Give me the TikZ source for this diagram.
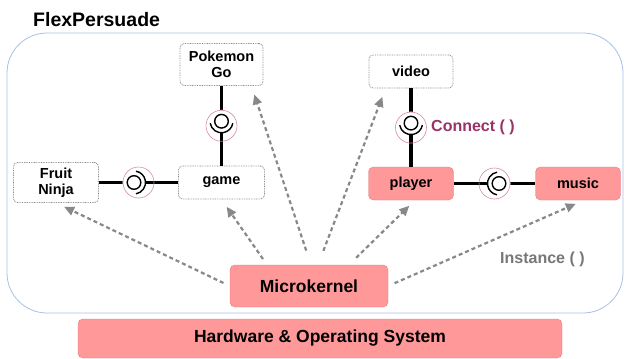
\documentclass[tikz,border=0pt]{standalone}
\usepackage{fontspec}
\setmainfont{Liberation Sans}
\usetikzlibrary{arrows.meta,positioning}

\definecolor{kernelpink}{HTML}{FF9999}
\definecolor{kernelline}{HTML}{E07A7A}
\definecolor{frameblue}{HTML}{A7C0E4}
\definecolor{ringpink}{HTML}{D88AA6}
\definecolor{connectcol}{HTML}{993366}
\definecolor{instancecol}{HTML}{777777}
\definecolor{arrowgray}{HTML}{888888}
\definecolor{dotgray}{HTML}{8A8A8A}

\tikzset{
	appbox/.style={draw=dotgray,line width=.8pt,dash pattern=on .8pt off .9pt,rounded corners=4pt,fill=white,align=center,inner sep=0pt,font=\fontsize{14.5}{16}\selectfont\bfseries},
	corebox/.style={draw=kernelline,fill=kernelpink,rounded corners=5pt,align=center,inner sep=0pt,font=\fontsize{14.5}{16}\selectfont\bfseries},
	link/.style={line width=3.5pt},
	spawn/.style={arrowgray,line width=2.2pt,dash pattern=on 4pt off 3pt,-{Triangle[length=10pt,width=9pt]}},
}

% ball and socket, socket side towards the angle #2
\newcommand{\balljoint}[2]{%
	\begin{scope}[shift={(#1)},rotate=#2]
		\fill[white] (-4.5pt,0pt) circle (11.5pt);
		\draw[ringpink,line width=.6pt] (0pt,0pt) circle (15.5pt);
		\draw[line width=1.4pt,fill=white] (-4.5pt,0pt) circle (6.8pt);
		\draw[line width=1.4pt] ([shift={(-80:11.5pt)}]-4.5pt,0pt) arc (-80:80:11.5pt);
	\end{scope}}

\begin{document}
\begin{tikzpicture}[x=1pt,y=-1pt]
	\useasboundingbox (0,0) rectangle (625,359);
	\node[anchor=base west,inner sep=0pt,font=\fontsize{19.5}{22}\selectfont\bfseries] (title) at (33,26.5) {FlexPersuade};
	\draw[frameblue,line width=.8pt,rounded corners=40pt] (7,33) rectangle (623,313);

	% apps
	\node[appbox,minimum width=83pt,minimum height=42pt] (pokemon) at (221.5,64.5) {Pokemon\\Go};
	\node[appbox,minimum width=85pt,minimum height=40pt] (fruit) at (56,182.5) {Fruit\\Ninja};
	\node[appbox,minimum width=86pt,minimum height=33pt] (game) at (221.5,182.5) {game};
	\node[appbox,minimum width=84pt,minimum height=33pt] (video) at (411,71.5) {video};
	\node[corebox,minimum width=85pt,minimum height=33pt] (player) at (411,183.5) {player};
	\node[corebox,minimum width=85pt,minimum height=33pt] (music) at (578,183.5) {music};

	% kernel and system
	\node[corebox,minimum width=158pt,minimum height=42pt,font=\fontsize{17.5}{20}\selectfont\bfseries] (kernel) at (309,286) {Microkernel};
	\node[corebox,minimum width=484pt,minimum height=39pt,font=\fontsize{17.5}{20}\selectfont\bfseries] (hw) at (320,338.5) {Hardware \& Operating System};

	% connections
	\draw[link] (pokemon) -- coordinate[midway] (jpg) (game);
	\draw[link] (fruit) -- coordinate[midway] (jfg) (game);
	\draw[link] (video) -- coordinate[midway] (jvp) (player);
	\draw[link] (player) -- coordinate[midway] (jpm) (music);
	\balljoint{jpg}{-90}
	\balljoint{jfg}{0}
	\balljoint{jvp}{-90}
	\balljoint{jpm}{180}

	\node[right=20pt of jvp,inner sep=0pt,text=connectcol,font=\fontsize{16}{18}\selectfont\bfseries] (connect) {Connect ( )};
	\node[anchor=west,inner sep=0pt,text=instancecol,font=\fontsize{16}{18}\selectfont\bfseries] (instance) at (500,259) {Instance ( )};

	% instances
	\draw[spawn,shorten <=7pt,shorten >=9pt] (kernel.west) -- (fruit.south);
	\draw[spawn,shorten <=7pt,shorten >=9pt] ([xshift=-42pt]kernel.north) -- (game.south);
	\draw[spawn,shorten <=15pt,shorten >=9pt] ([xshift=2pt]kernel.north) -- ([xshift=-12pt]pokemon.south east);
	\draw[spawn,shorten <=15pt,shorten >=9pt] ([xshift=9pt]kernel.north) -- ([xshift=17pt]video.south west);
	\draw[spawn,shorten <=10pt,shorten >=8pt] ([xshift=40pt]kernel.north) -- ([xshift=4pt]player.south);
	\draw[spawn,shorten <=7pt,shorten >=9pt] (kernel.east) -- ([xshift=6pt]music.south);
\end{tikzpicture}
\end{document}
